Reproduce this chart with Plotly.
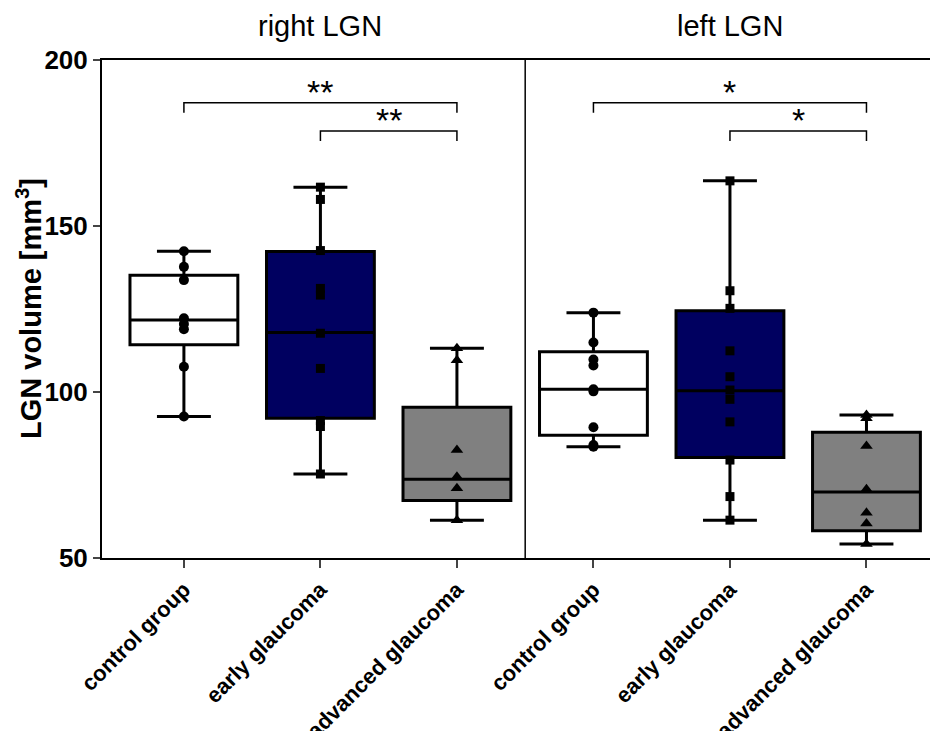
import plotly.graph_objects as go

# ---- data ----
categories = ["control group", "early glaucoma", "advanced glaucoma",
              "control group", "early glaucoma", "advanced glaucoma"]
panels = ["right LGN", "left LGN"]

right_control = [142.4, 137.7, 133.7, 122.2, 120.5, 118.9, 107.6, 92.6]
right_early = [161.7, 158.0, 142.6, 131.2, 129.2, 117.7, 107.1, 91.4, 89.6, 75.3]
right_advanced = [113.2, 109.6, 82.5, 74.5, 71.0, 61.4]
left_control = [123.9, 114.9, 109.8, 108.0, 100.8, 100.2, 89.4, 84.0, 83.5]
left_early = [163.6, 130.5, 125.2, 112.4, 104.6, 100.6, 97.8, 91.0, 79.5, 68.5, 61.4]
left_advanced = [93.1, 92.1, 83.7, 70.7, 63.6, 60.4, 54.2]

groups = [right_control, right_early, right_advanced,
          left_control, left_early, left_advanced]

q1_values = [114.2, 92.1, 67.3, 87.0, 80.3, 58.2]
median_values = [121.7, 117.9, 73.7, 100.8, 100.4, 69.9]
q3_values = [135.2, 142.3, 95.4, 112.1, 124.5, 87.9]

# significance comparisons: (from group, to group, label, bracket level)
comparisons = [(0, 2, "**", 187.1), (1, 2, "**", 178.6),
               (3, 5, "*", 187.1), (4, 5, "*", 178.6)]
bracket_drop = 3.0

y_ticks = [50, 100, 150, 200]

# ---- styles ----
fills = ["#ffffff", "#000060", "#808080", "#ffffff", "#000060", "#808080"]
symbols = ["circle", "square", "triangle-up", "circle", "square", "triangle-up"]
msizes = [10, 9, 11, 10, 9, 11]
FONT = "Arial, Liberation Sans, sans-serif"

fig = go.Figure()
for i, vals in enumerate(groups):
    fig.add_trace(go.Box(
        x=[i], q1=[q1_values[i]], median=[median_values[i]], q3=[q3_values[i]],
        lowerfence=[min(vals)], upperfence=[max(vals)],
        width=0.79, whiskerwidth=0.5, fillcolor=fills[i],
        line=dict(color="black", width=3), boxpoints=False,
        showlegend=False, hoverinfo="skip"))
for i, vals in enumerate(groups):
    fig.add_trace(go.Scatter(
        x=[i] * len(vals), y=vals, mode="markers",
        marker=dict(symbol=symbols[i], size=msizes[i], color="black"),
        showlegend=False, hoverinfo="skip"))

# panel divider
fig.add_shape(type="line", xref="x", yref="y", x0=2.5, x1=2.5, y0=50, y1=200,
              line=dict(color="black", width=1.5))

# significance brackets
for a, b, lab, lvl in comparisons:
    fig.add_shape(type="path", xref="x", yref="y",
                  path=f"M {a},{lvl - bracket_drop} L {a},{lvl} L {b},{lvl} L {b},{lvl - bracket_drop}",
                  line=dict(color="black", width=1.5))
    fig.add_annotation(x=(a + b) / 2, y=lvl, xref="x", yref="y", text=lab,
                       showarrow=False, yanchor="bottom", yshift=-10,
                       font=dict(family=FONT, size=34, color="black"))

# panel titles
for j, name in enumerate(panels):
    fig.add_annotation(x=1 + 3 * j, y=1, xref="x", yref="paper", text=name,
                       showarrow=False, yanchor="bottom", yshift=16,
                       font=dict(family=FONT, size=29, color="black"))

# y-axis title
fig.add_annotation(x=0, y=0.5, xref="paper", yref="paper",
                   text="<b>LGN volume [mm<sup>3</sup>]</b>", textangle=-90,
                   showarrow=False, xanchor="center", yanchor="middle", xshift=-73,
                   font=dict(family=FONT, size=29, color="black"))

fig.update_layout(
    width=930, height=723,
    margin=dict(l=94, r=0, t=52, b=173),
    paper_bgcolor="white", plot_bgcolor="white",
    font=dict(family=FONT, color="black"),
    xaxis=dict(range=[-0.6, 5.524], tickvals=list(range(6)), ticktext=categories,
               tickangle=-45, ticks="outside", ticklen=8, tickwidth=2,
               showline=True, linewidth=2, linecolor="black", mirror=True,
               showgrid=False, zeroline=False, automargin=False,
               tickfont=dict(family=FONT, size=22, color="black", weight="bold")),
    yaxis=dict(range=[50, 200], tickvals=y_ticks, ticks="outside", ticklen=7,
               tickwidth=2, showline=True, linewidth=2, linecolor="black",
               showgrid=False, zeroline=False, automargin=False,
               tickfont=dict(family=FONT, size=26, color="black", weight="bold")),
)

fig.write_html("out.html")
